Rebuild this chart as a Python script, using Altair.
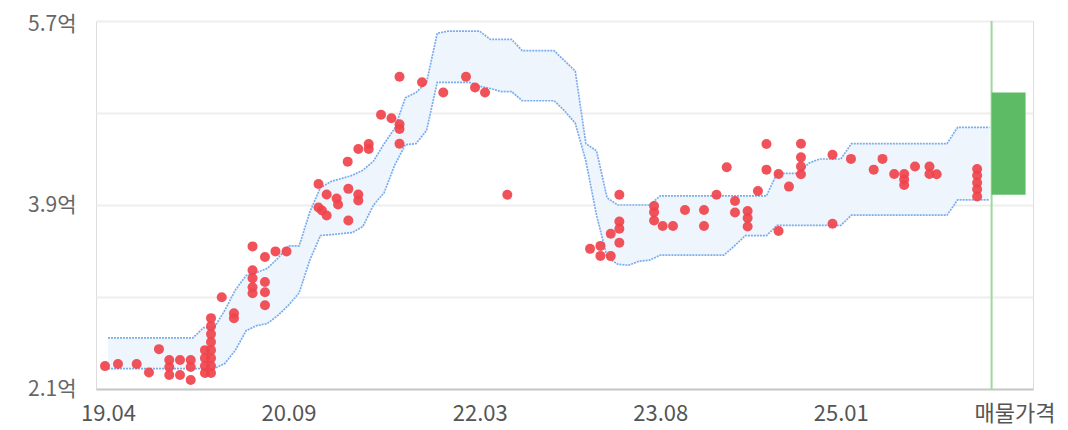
import altair as alt
import pandas as pd

# ---- data (month index 0 = 2019.04, values in 억) ----
band_months = list(range(84))
band_upper = [2.60] * 9 + [2.70, 2.70,
              2.87, 3.07, 3.21, 3.24, 3.28, 3.38, 3.50, 3.50, 3.83, 4.07,
              4.13, 4.16, 4.19, 4.24, 4.33, 4.50, 4.65, 4.95, 5.00, 5.10,
              5.58] + [5.60] * 4 + [5.52] * 3 + [5.41] * 4 + [5.31, 5.21,
              4.50, 4.43, 3.97] + [3.90] * 4 + [3.99] * 11 + [4.21] * 3 + [4.31] + [4.35] * 3 + [4.50] * 10 + [4.66] * 4
band_lower = [2.30] * 11 + [2.35, 2.48, 2.67, 2.72, 2.74, 2.82, 2.92, 3.04, 3.36, 3.60,
              3.61, 3.62, 3.63, 3.69, 3.90, 4.02, 4.29, 4.49, 4.50, 4.63,
              5.10] + [5.10] * 3 + [5.06, 5.04, 5.01, 5.01] + [4.92] * 4 + [4.82, 4.70,
              4.33, 3.80, 3.39, 3.32, 3.31, 3.35, 3.36] + [3.41] * 7 + [3.50] + [3.60] * 3 + [3.70] * 7 + [3.80] * 10 + [3.95] * 4

pt_month = [-0.28, 0.94, 2.70, 3.86, 4.80, 5.77, 5.77, 5.77, 6.78, 6.78,
            7.79, 7.79, 7.79,
            9.13, 9.13, 9.13, 9.13,
            9.70, 9.70, 9.70, 9.70, 9.70, 9.70, 9.70, 9.70,
            10.71, 11.86, 11.86,
            13.61, 13.61, 13.61, 13.61, 13.61,
            14.78, 14.78, 14.78, 14.78, 15.77, 16.81,
            19.82, 20.59, 21.53, 21.66, 19.82, 20.15, 20.59,
            22.63, 23.57, 23.57, 22.63, 22.57, 23.57, 24.55, 24.55,
            25.71, 26.69, 27.45, 27.45, 27.45, 27.45,
            29.57, 31.57, 33.71, 34.56, 35.50, 37.60,
            45.39, 46.37, 46.37, 47.34, 47.34, 48.15, 48.15, 48.15, 48.15,
            51.42, 51.42, 51.42, 52.23, 53.20, 54.33, 56.12, 56.12, 57.30,
            58.26, 59.04, 59.04, 60.23, 60.23, 60.23, 61.20, 62.00, 62.00,
            63.14, 63.14, 64.12, 65.25, 65.25, 65.25, 65.25,
            68.22, 68.22, 69.96, 72.10, 72.93, 74.03, 74.97, 74.97, 74.97,
            75.99, 77.35, 77.35, 78.03,
            81.84, 81.84, 81.84, 81.84, 81.84]
pt_value = [2.324, 2.344, 2.344, 2.261, 2.490, 2.383, 2.315, 2.237, 2.383, 2.237,
            2.383, 2.315, 2.188,
            2.480, 2.402, 2.324, 2.256,
            2.793, 2.715, 2.637, 2.559, 2.480, 2.402, 2.324, 2.256,
            2.998, 2.841, 2.793,
            3.495, 3.261, 3.183, 3.095, 3.037,
            3.391, 3.147, 3.046, 2.920, 3.446, 3.446,
            4.105, 4.002, 3.963, 3.905, 3.876, 3.846, 3.798,
            4.058, 4.002, 3.944, 3.749, 4.324, 4.448, 4.497, 4.448,
            4.783, 4.749, 4.690, 4.643, 4.500, 5.154,
            5.100, 5.000, 5.154, 5.049, 5.000, 4.000,
            3.471, 3.500, 3.402, 3.619, 3.400, 4.000, 3.739, 3.668, 3.531,
            3.890, 3.830, 3.749, 3.695, 3.695, 3.851, 3.851, 3.695, 4.000,
            4.269, 3.939, 3.827, 3.841, 3.773, 3.690, 4.037, 4.497, 4.246,
            4.204, 3.646, 4.080, 4.500, 4.366, 4.276, 4.200,
            4.391, 3.717, 4.351, 4.246, 4.351, 4.204, 4.204, 4.149, 4.095,
            4.276, 4.276, 4.204, 4.200,
            4.253, 4.188, 4.118, 4.053, 3.983]

tick_months = [0, 17, 35, 52, 69]
tick_labels = ["19.04", "20.09", "22.03", "23.08", "25.01"]

listing_label = "매물가격"
listing_month = 83.2
listing_end = 86.4
listing_low = 4.0
listing_high = 5.0

y_ticks = [2.1, 3.0, 3.9, 4.8, 5.7]
y_labeled = [2.1, 3.9, 5.7]

x_domain = [-1.13, 87.1]
y_domain = [2.1, 5.7]

# ---- tables ----
band_df = pd.DataFrame({"m": band_months, "upper": band_upper, "lower": band_lower})
pts_df = pd.DataFrame({"m": pt_month, "v": pt_value})
listing_df = pd.DataFrame({"m": [listing_month], "m2": [listing_end],
                           "lo": [listing_low], "hi": [listing_high]})

label_expr = ""
for m, lab in zip(tick_months, tick_labels):
    label_expr += f"datum.value == {m} ? '{lab}' : "
label_expr += f"datum.value == {listing_month} ? '{listing_label}' : ''"

y_expr = " || ".join(f"abs(datum.value - {v}) < 0.01" for v in y_labeled)
y_label_expr = f"({y_expr}) ? format(datum.value, '.1f') + '억' : ''"

FONT = "Noto Sans CJK KR"

x_scale = alt.Scale(domain=x_domain, nice=False, zero=False)
y_scale = alt.Scale(domain=y_domain, nice=False, zero=False)

x_axis = alt.Axis(values=tick_months + [listing_month], labelExpr=label_expr,
                  grid=False, ticks=False, domain=True, domainColor="#c8c8c8",
                  domainWidth=2, labelFontSize=22, labelColor="#555555",
                  labelFont=FONT, labelPadding=14, labelFlush=False,
                  labelOverlap=False, title=None,
                  labelOffset={"condition": {"test": f"datum.value == {listing_month}", "value": 23}, "value": 0})
y_axis = alt.Axis(values=y_ticks, labelExpr=y_label_expr, grid=True,
                  gridColor="#eeeeee", gridWidth=2, ticks=False, domain=False,
                  labelFontSize=21, labelColor="#666666", labelFont=FONT,
                  labelPadding=20, title=None, labelFlush=False,
                  labelOffset={"condition": {"test": f"datum.value > {y_domain[1] - 0.01}", "value": 3}, "value": 0})

base_band = alt.Chart(band_df)
area = base_band.mark_area(color="#eff5fd").encode(
    x=alt.X("m:Q", scale=x_scale, axis=x_axis),
    y=alt.Y("upper:Q", scale=y_scale, axis=y_axis),
    y2="lower:Q",
)
upper_line = base_band.mark_line(color="#7aadec", strokeWidth=1.7, strokeDash=[2, 1]).encode(
    x=alt.X("m:Q", scale=x_scale), y=alt.Y("upper:Q", scale=y_scale))
lower_line = base_band.mark_line(color="#7aadec", strokeWidth=1.7, strokeDash=[2, 1]).encode(
    x=alt.X("m:Q", scale=x_scale), y=alt.Y("lower:Q", scale=y_scale))

points = alt.Chart(pts_df).mark_circle(color="#f0434c", size=100, opacity=0.92).encode(
    x=alt.X("m:Q", scale=x_scale), y=alt.Y("v:Q", scale=y_scale))

vline = alt.Chart(listing_df).mark_rule(color="#9fd89f", strokeWidth=2).encode(
    x=alt.X("m:Q", scale=x_scale))
bar = alt.Chart(listing_df).mark_rect(color="#5dbb66").encode(
    x=alt.X("m:Q", scale=x_scale), x2="m2:Q",
    y=alt.Y("lo:Q", scale=y_scale), y2="hi:Q")

chart = alt.layer(area, upper_line, lower_line, points, vline, bar).properties(
    width=937, height=368,
    padding={"left": 88, "top": 13, "right": 27, "bottom": 39},
    autosize=alt.AutoSizeParams(type="none"),
).configure_view(stroke=None).configure(font=FONT)

chart.save("out.html", embed_options={"renderer": "svg", "actions": False})
